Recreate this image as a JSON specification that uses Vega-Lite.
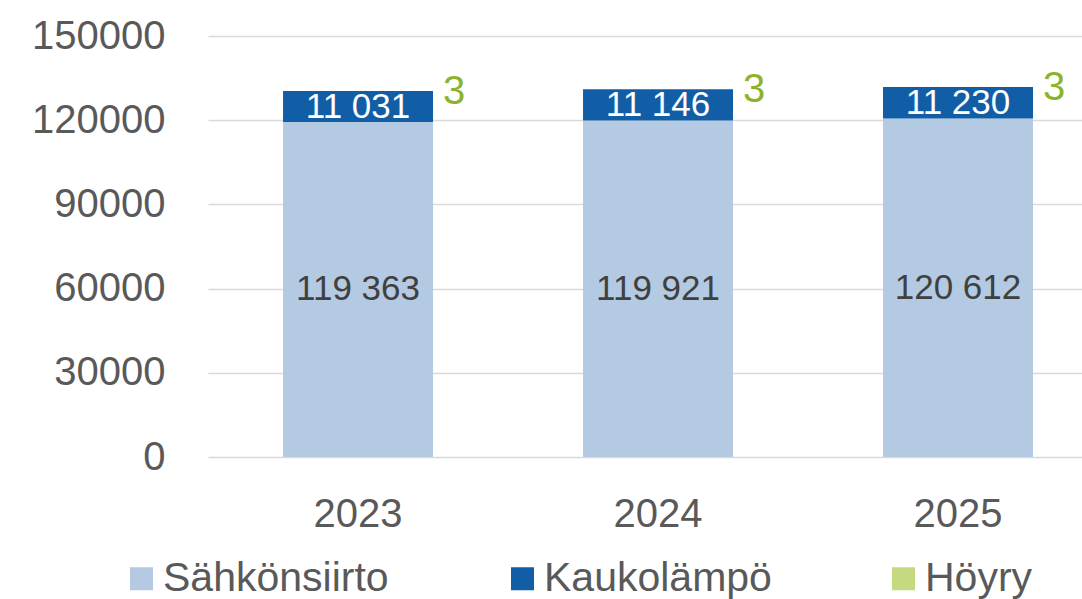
{
  "$schema": "https://vega.github.io/schema/vega-lite/v6.json",
  "autosize": "none",
  "width": 874,
  "height": 421,
  "padding": {"left": 208, "top": 36, "right": 0, "bottom": 142},
  "background": "white",
  "config": {
    "view": {"stroke": null},
    "font": "Liberation Sans",
    "locale": {"number": {"decimal": ",", "thousands": " ", "grouping": [3], "currency": ["", " €"]}}
  },
  "data": {
    "values": [
      {"year": "2023", "series": "Sähkönsiirto", "value": 119363},
      {"year": "2023", "series": "Kaukolämpö", "value": 11031},
      {"year": "2023", "series": "Höyry", "value": 3},
      {"year": "2024", "series": "Sähkönsiirto", "value": 119921},
      {"year": "2024", "series": "Kaukolämpö", "value": 11146},
      {"year": "2024", "series": "Höyry", "value": 3},
      {"year": "2025", "series": "Sähkönsiirto", "value": 120612},
      {"year": "2025", "series": "Kaukolämpö", "value": 11230},
      {"year": "2025", "series": "Höyry", "value": 3}
    ]
  },
  "encoding": {
    "x": {
      "field": "year", "type": "nominal", "title": null,
      "scale": {"paddingInner": 0.5, "paddingOuter": 0.2067, "align": 0.605},
      "axis": {"labelAngle": 0, "domain": false, "ticks": false, "labelFontSize": 40, "labelColor": "#595959", "labelPadding": 37}
    }
  },
  "layer": [
    {
      "mark": {"type": "bar"},
      "encoding": {
        "y": {
          "field": "value", "type": "quantitative", "stack": "zero", "title": null,
          "scale": {"domain": [0, 150000], "nice": false},
          "axis": {"values": [0, 30000, 60000, 90000, 120000, 150000], "format": "d", "domain": false, "ticks": false, "labelFontSize": 40, "labelColor": "#595959", "labelPadding": 43, "gridColor": "#D9D9D9", "gridWidth": 1.5}
        },
        "color": {
          "field": "series", "type": "nominal", "title": null,
          "sort": ["Sähkönsiirto", "Kaukolämpö", "Höyry"],
          "scale": {"domain": ["Sähkönsiirto", "Kaukolämpö", "Höyry"], "range": ["#B4CAE2", "#115EA7", "#C4D980"]},
          "legend": {
            "orient": "none", "direction": "horizontal", "legendX": -87, "legendY": 522,
            "symbolType": "square", "symbolSize": 529, "symbolStrokeWidth": 0, "symbolOpacity": 1,
            "labelFontSize": 41, "labelColor": "#595959", "labelOffset": 1,
            "columnPadding": 111, "gridAlign": "all", "padding": 0, "labelLimit": 400
          }
        },
        "order": {"field": "series", "sort": "descending"}
      }
    },
    {
      "transform": [
        {"stack": "value", "groupby": ["year"], "sort": [{"field": "series", "order": "descending"}], "as": ["v0", "v1"]},
        {"calculate": "(datum.v0 + datum.v1) / 2", "as": "mid"},
        {"filter": "datum.series !== 'Höyry'"}
      ],
      "mark": {"type": "text", "fontSize": 35, "baseline": "middle", "align": "center"},
      "encoding": {
        "y": {"field": "mid", "type": "quantitative"},
        "text": {"field": "value", "type": "quantitative", "format": ","},
        "color": {"condition": {"test": "datum.series === 'Kaukolämpö'", "value": "#FFFFFF"}, "value": "#404040"}
      }
    },
    {
      "transform": [
        {"stack": "value", "groupby": ["year"], "sort": [{"field": "series", "order": "descending"}], "as": ["v0", "v1"]},
        {"filter": "datum.series === 'Höyry'"}
      ],
      "mark": {"type": "text", "fontSize": 40, "baseline": "middle", "align": "left", "dx": 85, "dy": 1, "color": "#8DB32A"},
      "encoding": {
        "y": {"field": "v1", "type": "quantitative"},
        "text": {"field": "value", "type": "quantitative", "format": ","}
      }
    }
  ]
}
